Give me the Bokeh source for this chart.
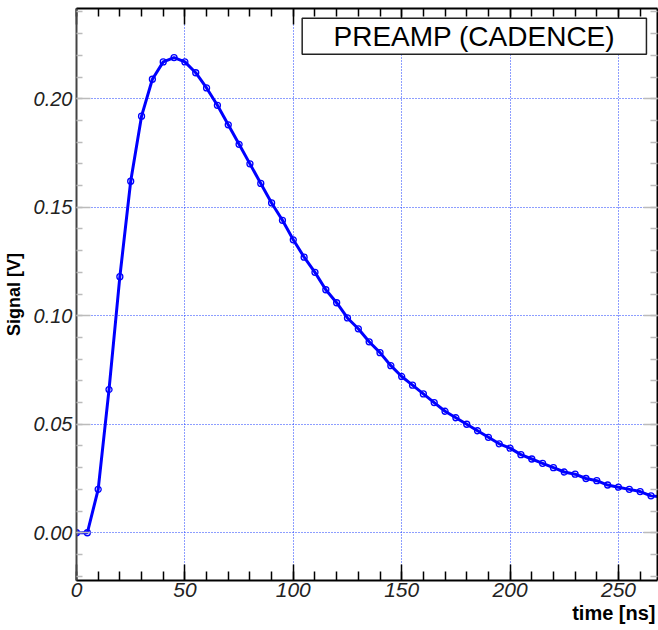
from bokeh.plotting import figure
from bokeh.models import (LinearAxis, SingleIntervalTicker, NumeralTickFormatter,
                          Label, BoxAnnotation, Range1d, Title, CustomJSTickFormatter)
from bokeh.embed import file_html
from bokeh.resources import INLINE

# ---- data ----
time_ns = [0, 5, 10, 15, 20, 25, 30, 35, 40, 45, 50, 55, 60, 65, 70, 75, 80, 85,
           90, 95, 100, 105, 110, 115, 120, 125, 130, 135, 140, 145, 150, 155,
           160, 165, 170, 175, 180, 185, 190, 195, 200, 205, 210, 215, 220, 225,
           230, 235, 240, 245, 250, 255, 260, 265, 270]
signal_v = [0.000, 0.000, 0.020, 0.066, 0.118, 0.162, 0.192, 0.209, 0.217, 0.219,
            0.217, 0.212, 0.205, 0.197, 0.188, 0.179, 0.170, 0.161, 0.152, 0.144,
            0.135, 0.127, 0.120, 0.112, 0.106, 0.099, 0.094, 0.088, 0.083, 0.077,
            0.072, 0.068, 0.064, 0.060, 0.056, 0.053, 0.050, 0.047, 0.044, 0.041,
            0.039, 0.036, 0.034, 0.032, 0.030, 0.028, 0.027, 0.025, 0.024, 0.022,
            0.021, 0.020, 0.019, 0.017, 0.0165]
legend_text = "PREAMP (CADENCE)"
x_title = "time [ns]"
y_title = "Signal [V]"

X0, X1 = 0, 268
Y0, Y1 = -0.022, 0.2416

p = figure(width=658, height=630, output_backend="svg", toolbar_location=None,
           x_range=Range1d(X0, X1), y_range=Range1d(Y0, Y1),
           min_border_left=76, min_border_right=1, min_border_top=8,
           min_border_bottom=50)
p.outline_line_color = None
p.background_fill_color = "white"
p.border_fill_color = "white"

xticker = SingleIntervalTicker(interval=50, num_minor_ticks=5)
yticker = SingleIntervalTicker(interval=0.05, num_minor_ticks=5)
blank = CustomJSTickFormatter(code="return ''")

FONT = "Liberation Sans"

xa = p.xaxis[0]
xa.ticker = xticker
xa.axis_line_color = "black"
xa.axis_line_width = 2
xa.major_tick_in = 16
xa.major_tick_out = 0
xa.minor_tick_in = 9
xa.minor_tick_out = 0
xa.major_tick_line_color = "black"
xa.major_tick_line_width = 1.5
xa.minor_tick_line_color = "black"
xa.minor_tick_line_width = 1.5
xa.major_label_text_font = FONT
xa.major_label_text_font_style = "italic"
xa.major_label_text_font_size = "21px"
xa.major_label_text_color = "#222222"
xa.major_label_standoff = 2

ya = p.yaxis[0]
ya.ticker = yticker
ya.formatter = NumeralTickFormatter(format="0.00")
ya.axis_line_color = "#444444"
ya.axis_line_width = 2
ya.major_tick_in = 14
ya.major_tick_out = 0
ya.minor_tick_in = 6
ya.minor_tick_out = 0
ya.major_tick_line_color = "#bbbbbb"
ya.major_tick_line_width = 1.5
ya.minor_tick_line_color = "#bbbbbb"
ya.minor_tick_line_width = 1.5
ya.major_label_text_font = FONT
ya.major_label_text_font_style = "italic"
ya.major_label_text_font_size = "20px"
ya.major_label_text_color = "#222222"
ya.major_label_standoff = 4
ya.axis_label = y_title
ya.axis_label_text_font = FONT
ya.axis_label_text_font_style = "bold"
ya.axis_label_text_font_size = "18px"
ya.axis_label_text_color = "black"
ya.axis_label_standoff = 7

top = LinearAxis(ticker=xticker, formatter=blank, major_label_standoff=0,
                 axis_line_color="black", axis_line_width=2,
                 major_tick_in=16, major_tick_out=0, minor_tick_in=8, minor_tick_out=0,
                 major_tick_line_color="black", minor_tick_line_color="black",
                 major_tick_line_width=1.5, minor_tick_line_width=1.5)
p.add_layout(top, "above")

right = LinearAxis(ticker=yticker, formatter=blank, major_label_standoff=0,
                   axis_line_color="black", axis_line_width=2,
                   major_tick_in=14, major_tick_out=0, minor_tick_in=7, minor_tick_out=0,
                   major_tick_line_color="#bbbbbb", minor_tick_line_color="#bbbbbb",
                   major_tick_line_width=1.5, minor_tick_line_width=1.5)
p.add_layout(right, "right")

for g, t in ((p.xgrid[0], xticker), (p.ygrid[0], yticker)):
    g.ticker = t
    g.grid_line_color = "#1a3cff"
    g.grid_line_width = 1
    g.grid_line_dash = "1 2"
    g.grid_line_alpha = 1.0

p.line(time_ns, signal_v, line_color="#0000ff", line_width=3)
p.scatter(time_ns, signal_v, marker="circle", size=6, fill_color=None,
          line_color="#0000ff", line_width=1.3)

p.add_layout(BoxAnnotation(left=104.1, right=262.9, bottom=0.2205, top=0.2371,
                           fill_color="white", fill_alpha=1.0,
                           line_color="#222222", line_width=1.5, line_alpha=1.0))
p.add_layout(Label(x=183.5, y=0.2288, text=legend_text, text_font=FONT,
                   text_font_size="28px", text_align="center",
                   text_baseline="middle", text_color="black"))

p.add_layout(Title(text=x_title, align="right", text_font=FONT,
                   text_font_size="20px", text_font_style="bold",
                   text_color="black", standoff=0, offset=2), "below")

open("out.html", "w").write(file_html(p, INLINE))
